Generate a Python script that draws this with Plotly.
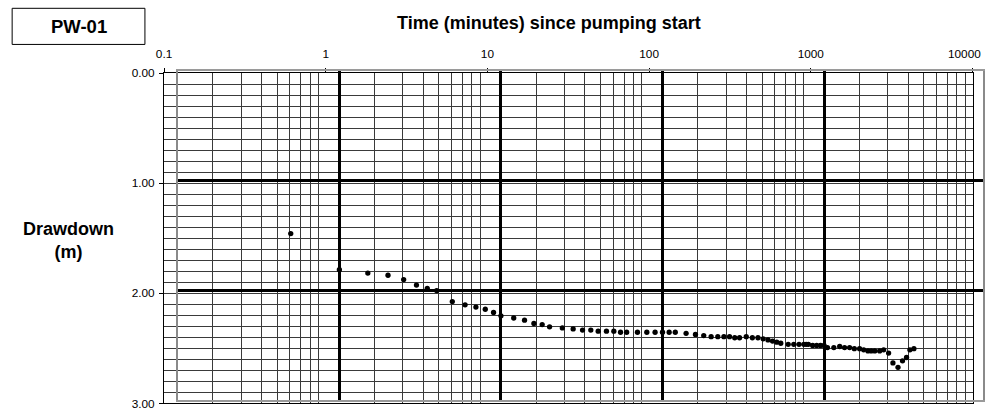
import plotly.graph_objects as go

# Pumping test PW-01: drawdown vs elapsed time
time_min = [0.5, 1, 1.5, 2, 2.5, 3, 3.5, 4, 5, 6, 7, 8, 9, 10, 12, 14, 16, 18, 20,
            24, 28, 32, 36, 40, 45, 50, 55, 60, 70, 80, 90, 100, 110, 120, 140, 160,
            180, 200, 220, 240, 260, 280, 300, 330, 360, 390, 420, 450, 480, 510, 540,
            600, 650, 700, 750, 775, 800, 850, 900, 950, 1000, 1050, 1150, 1250, 1340,
            1440, 1540, 1660, 1760, 1870, 1960, 2060, 2210, 2340, 2510, 2670, 2870,
            3060, 3240, 3400, 3600]
drawdown_m = [1.48, 1.81, 1.84, 1.86, 1.90, 1.95, 1.98, 2.00, 2.10, 2.13, 2.15, 2.17,
              2.20, 2.23, 2.25, 2.27, 2.30, 2.31, 2.33, 2.34, 2.35, 2.36, 2.36, 2.37,
              2.37, 2.37, 2.38, 2.38, 2.38, 2.38, 2.38, 2.38, 2.38, 2.38, 2.39, 2.40,
              2.41, 2.42, 2.42, 2.42, 2.42, 2.43, 2.43, 2.42, 2.43, 2.43, 2.44, 2.45,
              2.46, 2.47, 2.48, 2.49, 2.49, 2.49, 2.49, 2.49, 2.49, 2.50, 2.50, 2.50,
              2.50, 2.52, 2.52, 2.51, 2.52, 2.52, 2.53, 2.53, 2.54, 2.55, 2.55, 2.55,
              2.55, 2.54, 2.57, 2.66, 2.70, 2.64, 2.61, 2.54, 2.53]

x_tickvals = [0.1, 1, 10, 100, 1000, 10000]
x_ticktext = ["0.1", "1", "10", "100", "1000", "10000"]
x_minor = [k * d for d in (0.1, 1, 10, 100, 1000) for k in range(2, 10)]
y_tickvals = [0, 1, 2, 3]

# figure size and its place on the page (inside the 8px body margin)
W, H, PAD = 985, 419, 8
SX, SY = 985 / (W + 2 * PAD), 419 / (H + 2 * PAD)
FONT = "Liberation Sans, Arial, sans-serif"


def fx(p):
    # sheet column -> paper fraction
    return min(max((p / SX - PAD) / W, 0.0), 1.0)


def fy(p):
    # sheet row -> paper fraction
    return min(max(1 - (p / SY - PAD) / H, 0.0), 1.0)


def fs(size):
    return round(size / ((SX + SY) / 2), 1)


# bold chart: 0.1 .. 10000 spans columns 176.7 .. 979.7; clip it at the figure edge
B_LEFT, B_RIGHT_FULL = 176.7, 979.7
b_frac_full = (B_RIGHT_FULL / SX - PAD) / W
b_frac = min(b_frac_full, 1.0)
b_left_frac = fx(B_LEFT)
b_xrange = [-1, -1 + 5 * (b_frac - b_left_frac) / (b_frac_full - b_left_frac)]

fig = go.Figure()

# empty trace so the labelled log-paper subplot is drawn
fig.add_trace(go.Scatter(x=[], y=[], mode="markers", xaxis="x", yaxis="y",
                         showlegend=False, hoverinfo="skip"))

# data plotted on the bold-grid chart
fig.add_trace(go.Scatter(
    x=time_min, y=drawdown_m, mode="markers",
    marker=dict(color="black", size=5.3),
    xaxis="x2", yaxis="y2", showlegend=False, hoverinfo="x+y",
))

# the last decade label sits on the right edge of the sheet, so it is placed
# as a right-aligned label instead of a centred tick label
tick_labels_drawn = x_ticktext[:-1] + [""]

fig.update_layout(
    width=W, height=H,
    margin=dict(l=0, r=0, t=0, b=0),
    paper_bgcolor="white",
    plot_bgcolor="rgba(0,0,0,0)",
    font=dict(family=FONT, color="black"),
    # semi-log paper: labelled axes with fine grid
    xaxis=dict(
        type="log", range=[-1, 4], domain=[fx(163), fx(966.7)],
        side="top", anchor="y",
        tickmode="array", tickvals=x_tickvals, ticktext=tick_labels_drawn,
        ticks="outside", ticklen=4, tickcolor="black",
        tickfont=dict(size=fs(11.5), family=FONT), ticklabelstandoff=6,
        showgrid=False, zeroline=False,
        showline=True, linecolor="black", linewidth=1, mirror=True,
        minor=dict(tickmode="array", tickvals=x_minor, showgrid=True,
                   gridcolor="#3a3a3a", gridwidth=1, ticks=""),
    ),
    yaxis=dict(
        range=[3, 0], domain=[fy(402.7), fy(73.7)], anchor="x",
        tickmode="array", tickvals=y_tickvals, tickformat=".2f",
        ticks="outside", ticklen=4, tickcolor="black",
        tickfont=dict(size=fs(11.5), family=FONT), ticklabelstandoff=2,
        showgrid=False, zeroline=False,
        showline=True, linecolor="black", linewidth=1, mirror=True,
        minor=dict(dtick=0.1, showgrid=True, gridcolor="#3a3a3a",
                   gridwidth=1, ticks=""),
    ),
    # bold decade / metre grid carrying the measurements
    xaxis2=dict(
        type="log", range=b_xrange, domain=[b_left_frac, b_frac], anchor="y2",
        dtick=1, showticklabels=False, ticks="",
        showgrid=True, gridcolor="black", gridwidth=3, zeroline=False,
        showline=True, linecolor="#9a9a9a", linewidth=2, mirror=True,
    ),
    yaxis2=dict(
        range=[3, 0], domain=[fy(399.6), fy(71.7)], anchor="x2",
        dtick=1, showticklabels=False, ticks="",
        showgrid=True, gridcolor="black", gridwidth=3, zeroline=False,
        showline=True, linecolor="#8a8a8a", linewidth=2, mirror=True,
    ),
)

# well label box
fig.add_shape(type="rect", xref="paper", yref="paper", x0=fx(12), x1=fx(144),
              y0=fy(45), y1=fy(9), line=dict(color="black", width=1))

label_style = dict(xref="paper", yref="paper", showarrow=False,
                   xanchor="center", yanchor="middle")
fig.add_annotation(text=x_ticktext[-1], xref="paper", yref="paper",
                   x=1.0, y=fy(55), xanchor="right", yanchor="middle",
                   showarrow=False, font=dict(size=fs(11.5), family=FONT))
fig.add_annotation(text="<b>PW-01</b>", x=fx(78), y=fy(27),
                   font=dict(size=fs(18), family=FONT), **label_style)
fig.add_annotation(text="<b>Time (minutes) since pumping start</b>",
                   x=fx(546), y=fy(24), font=dict(size=fs(17.5), family=FONT),
                   **label_style)
fig.add_annotation(text="<b>Drawdown<br>(m)</b>", x=fx(68), y=fy(240),
                   font=dict(size=fs(17.5), family=FONT), **label_style)

fig.write_html("out.html")
